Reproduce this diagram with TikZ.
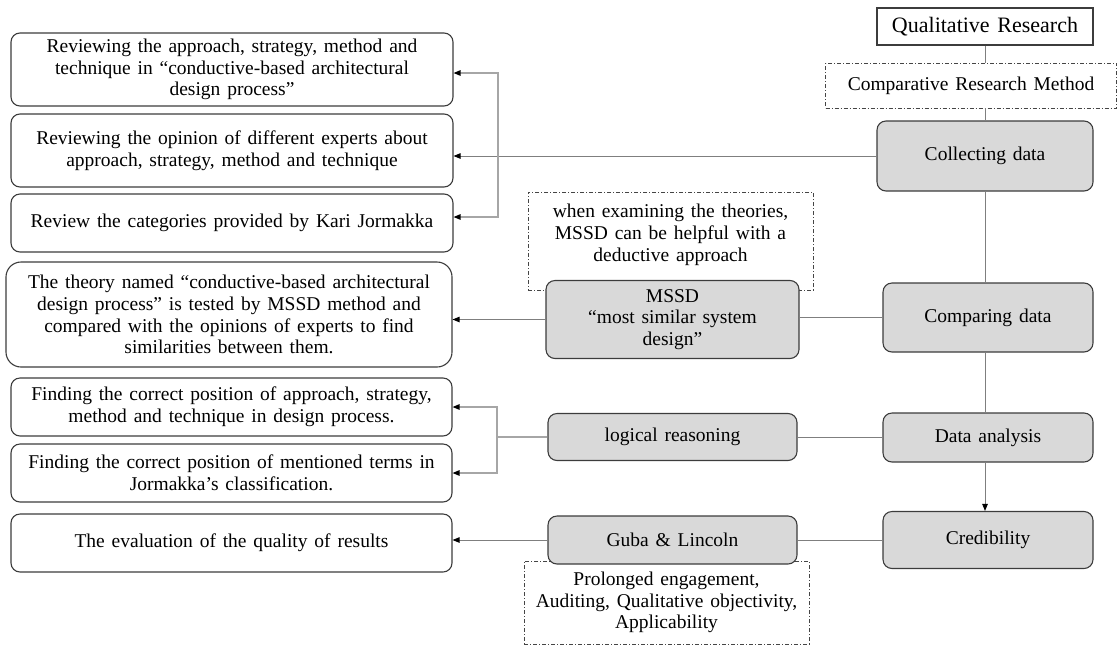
\documentclass[tikz,border=0pt]{standalone}
\usepackage{fontspec}
\setmainfont{Liberation Serif}[WordSpace=1.4]
\usetikzlibrary{arrows.meta}
\definecolor{boxgray}{HTML}{D9D9D9}
\definecolor{bordc}{HTML}{3C3C3C}
\definecolor{linec}{HTML}{7F7F7F}
\definecolor{brkc}{HTML}{A6A6A6}
\definecolor{notec}{HTML}{454545}
\newcommand\bodyfont{\fontsize{19.5}{21.8}\selectfont}
\newcommand\titlefont{\fontsize{22}{25}\selectfont}
\tikzset{
  x=1pt, y=-1pt,
  every node/.style={font=\bodyfont, text=black},
  box/.style={draw=bordc, line width=1.1pt, rounded corners=9pt, align=center, inner sep=0pt},
  gbox/.style={box, fill=boxgray},
  wbox/.style={box, fill=white},
  notebox/.style={draw=notec, line width=0.9pt, dash pattern=on 4pt off 2pt on 1pt off 2pt,
                  align=center, inner sep=0pt},
  conn/.style={draw=linec, line width=0.9pt},
  brk/.style={draw=brkc, line width=1.2pt},
  tip/.style={-{Triangle[length=7pt,width=5.5pt,color=black]}},
  tips/.style={{Triangle[length=7pt,width=5.5pt,color=black]}-{Triangle[length=7pt,width=5.5pt,color=black]}}
}
\begin{document}
\begin{tikzpicture}
\useasboundingbox (0,0) rectangle (1118,646);

% dashed notes (drawn first so the grey boxes sit on top of them)
\node[notebox, minimum width=291pt, minimum height=45pt] (crm) at (971,85.5) {Comparative Research Method};
\node[notebox, minimum width=285pt, minimum height=98pt, text depth=17pt] (note1) at (670.5,241)
  {when examining the theories,\\MSSD can be helpful with a\\deductive approach};
\node[notebox, minimum width=285pt, minimum height=83pt] (note2) at (666.5,602.5)
  {Prolonged engagement,\\Auditing, Qualitative objectivity,\\Applicability};

% main column
\node[draw=bordc, line width=1.1pt, fill=white, inner sep=0pt, minimum width=216pt, minimum height=37pt,
      font=\titlefont] (qual) at (985,26.5) {Qualitative Research};
\node[gbox, minimum width=216pt, minimum height=70pt] (collect) at (985,156) {Collecting data};
\node[gbox, minimum width=210pt, minimum height=69pt] (compare) at (988,317.5) {Comparing data};
\node[gbox, minimum width=210pt, minimum height=49pt] (analysis) at (988,437.5) {Data analysis};
\node[gbox, minimum width=210pt, minimum height=57pt] (cred) at (988,540) {Credibility};

% middle column
\node[gbox, minimum width=253pt, minimum height=78pt] (mssd) at (672.5,319.5)
  {MSSD\\“most similar system\\design”};
\node[gbox, minimum width=249pt, minimum height=47pt] (logic) at (672.5,437) {logical reasoning};
\node[gbox, minimum width=249pt, minimum height=48pt] (guba) at (672.5,540) {Guba \& Lincoln};

% left column
\node[wbox, minimum width=442pt, minimum height=73pt] (b1) at (232,69.5)
  {Reviewing the approach, strategy, method and\\technique in “conductive-based architectural\\design process”};
\node[wbox, minimum width=442pt, minimum height=73pt] (b2) at (232,150.5)
  {Reviewing the opinion of different experts about\\approach, strategy, method and technique};
\node[wbox, minimum width=442pt, minimum height=58pt] (b3) at (232,223)
  {Review the categories provided by Kari Jormakka};
\node[wbox, rounded corners=15pt, minimum width=446pt, minimum height=105pt] (b4) at (229,314.5)
  {The theory named “conductive-based architectural\\design process” is tested by MSSD method and\\compared with the opinions of experts to find\\similarities between them.};
\node[wbox, minimum width=441pt, minimum height=58pt] (b5) at (231.5,407)
  {Finding the correct position of approach, strategy,\\method and technique in design process.};
\node[wbox, minimum width=441pt, minimum height=58pt] (b6) at (231.5,473)
  {Finding the correct position of mentioned terms in\\Jormakka’s classification.};
\node[wbox, minimum width=441pt, minimum height=58pt] (b7) at (231.5,543)
  {The evaluation of the quality of results};

% vertical spine
\draw[conn] (qual.south) -- (qual.south |- crm.north);
\draw[conn] (qual.south |- crm.south) -- (collect.north);
\draw[conn] (collect.south) -- (collect.south |- compare.north);
\draw[conn] (collect.south |- compare.south) -- (collect.south |- analysis.north);
\draw[conn, tip] (collect.south |- analysis.south) -- (collect.south |- cred.north);

% collecting data branch
\draw[conn, tip] (collect.west) -- (collect.west -| b2.east);
\coordinate (k1) at (498,73);
\coordinate (k3) at (498,217);
\draw[brk, tips] (b1.east |- k1) -- (k1) -- (k3) -- (b3.east |- k3);

% comparing data branch
\draw[conn] (compare.west) -- (compare.west -| mssd.east);
\draw[conn, tip] (mssd.west) -- (mssd.west -| b4.east);

% data analysis branch
\draw[conn] (analysis.west) -- (analysis.west -| logic.east);
\coordinate (j2) at (497,437);
\draw[brk] (logic.west) -- (j2);
\draw[brk, tip] (j2) |- (b5.east);
\draw[brk, tip] (j2) |- (b6.east);

% credibility branch
\draw[conn] (cred.west) -- (guba.east);
\draw[conn, tip] (guba.west) -- (guba.west -| b7.east);
\end{tikzpicture}
\end{document}
